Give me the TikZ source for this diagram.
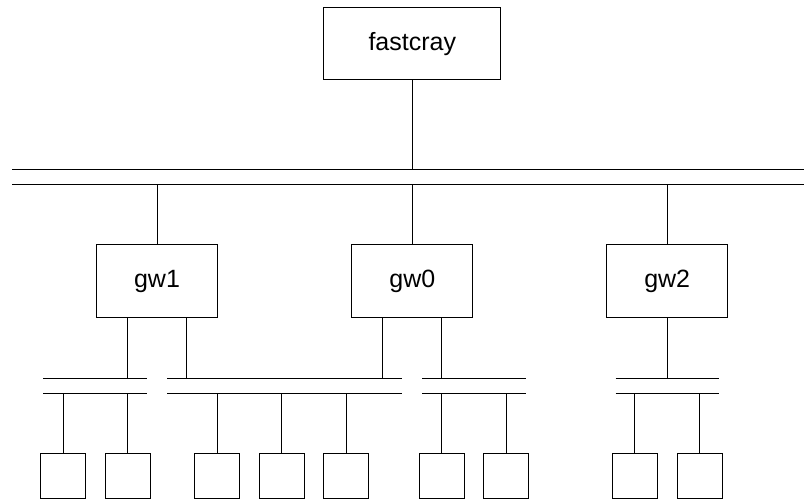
\documentclass[tikz,border=0pt]{standalone}
\usepackage{fontspec}
\setmainfont{Liberation Sans}
\begin{document}
\begin{tikzpicture}[x=1pt,y=-1pt,
  wire/.style={line width=1pt},
  host/.style={draw,line width=1pt,inner sep=0pt,font=\fontsize{25}{30}\selectfont},
  gateway/.style={host,minimum width=120.8pt,minimum height=72.7pt},
  station/.style={draw,line width=1pt,inner sep=0pt,minimum width=45pt,minimum height=45pt}]
\useasboundingbox (0,0) rectangle (804,500);

% main backbone (double line)
\coordinate (bbAl) at (12,169.3);   \coordinate (bbAr) at (804,169.3);
\coordinate (bbBl) at (12,184.7);   \coordinate (bbBr) at (804,184.7);
\draw[wire] (bbAl) -- (bbAr);
\draw[wire] (bbBl) -- (bbBr);

% host and gateways
\node[host,minimum width=176.7pt,minimum height=72pt] (fastcray) at (412.3,44) {fastcray};
\node[gateway] (gw1) at (157,281.3) {gw1};
\node[gateway] (gw0) at (412.3,281.3) {gw0};
\node[gateway] (gw2) at (667.2,281.3) {gw2};

\draw[wire] (fastcray.south) -- (fastcray.south |- bbAl);
\foreach \g in {gw1,gw0,gw2}
  \draw[wire] (\g.north) -- (\g.north |- bbBl);

% local segments (double lines)
\foreach \n/\xa/\xb in {s1/43.3/147.3, s2/167/402.3, s3/422/525.7, s4/615.7/719}{
  \coordinate (\n al) at (\xa,378.3); \coordinate (\n ar) at (\xb,378.3);
  \coordinate (\n bl) at (\xa,393.7); \coordinate (\n br) at (\xb,393.7);
  \draw[wire] (\n al) -- (\n ar);
  \draw[wire] (\n bl) -- (\n br);
}

% gateway legs onto the local segments
\coordinate (g1a) at ([xshift=-29.4pt]gw1.south);
\coordinate (g1b) at ([xshift=29.6pt]gw1.south);
\coordinate (g0a) at ([xshift=-29.6pt]gw0.south);
\coordinate (g0b) at ([xshift=29.4pt]gw0.south);
\draw[wire] (g1a) -- (g1a |- s1al);
\draw[wire] (g1b) -- (g1b |- s2al);
\draw[wire] (g0a) -- (g0a |- s2al);
\draw[wire] (g0b) -- (g0b |- s3al);
\draw[wire] (gw2.south) -- (gw2.south |- s4al);

% workstations
\foreach \n/\x/\s in {w1/63.2/s1, w2/127.8/s1, w3/217.3/s2, w4/281.8/s2, w5/346.3/s2,
                      w6/441.7/s3, w7/506/s3, w8/634.8/s4, w9/699.5/s4}{
  \node[station] (\n) at (\x,476) {};
  \draw[wire] (\n.north) -- (\n.north |- \s bl);
}
\end{tikzpicture}
\end{document}
